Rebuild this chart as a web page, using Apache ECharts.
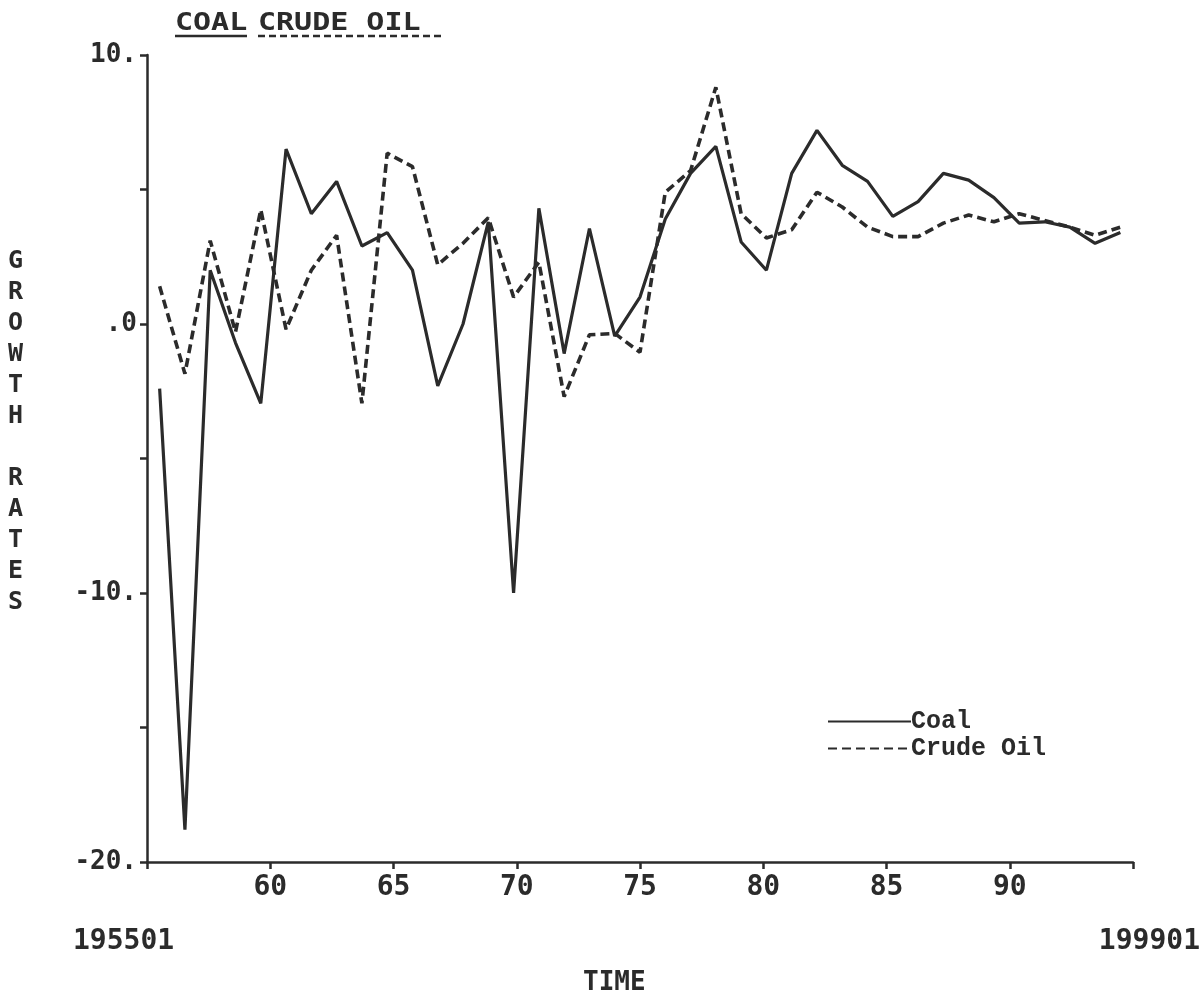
<!DOCTYPE html>
<html>
<head>
<meta charset="utf-8">
<script src="https://cdn.jsdelivr.net/npm/echarts@6/dist/echarts.min.js"></script>
<style>
html,body{margin:0;padding:0;background:#fff;}
#chart{width:1204px;height:998px;}
</style>
</head>
<body>
<div id="chart"></div>
<script>
// ---- data ----
const years = [1955,1956,1957,1958,1959,1960,1961,1962,1963,1964,1965,1966,1967,1968,1969,1970,1971,1972,1973,1974,1975,1976,1977,1978,1979,1980,1981,1982,1983,1984,1985,1986,1987,1988,1989,1990,1991,1992,1993];
const coal = [-2.4,-18.8,2.0,-0.7,-2.95,6.5,4.1,5.3,2.9,3.4,2.0,-2.3,0.0,3.8,-10.0,4.3,-1.1,3.55,-0.45,1.0,3.9,5.6,6.6,3.05,2.0,5.6,7.2,5.9,5.3,4.0,4.55,5.6,5.35,4.7,3.75,3.8,3.6,3.0,3.4];
const crudeOil = [1.4,-1.85,3.1,-0.3,4.25,-0.2,2.0,3.3,-2.95,6.35,5.85,2.2,3.0,3.95,1.0,2.3,-2.7,-0.4,-0.35,-1.05,4.9,5.7,8.8,4.1,3.2,3.5,4.9,4.35,3.6,3.25,3.25,3.75,4.05,3.8,4.1,3.85,3.6,3.3,3.6];
const xTickLabels = ['60','65','70','75','80','85','90'];
const seriesNames = ['Coal','Crude Oil'];

const ink = '#2b2b2b';
const monoB = 'DejaVu Sans Mono';

const chart = echarts.init(document.getElementById('chart'), null, {renderer:'canvas'});
chart.setOption({
  backgroundColor:'#fff',
  animation:false,
  grid:{left:147, right:71, top:55, bottom:136, containLabel:false},
  legend:{
    orient:'vertical', left:822, top:704, itemWidth:83, itemHeight:14, itemGap:2,
    data:seriesNames,
    itemStyle:{opacity:0},
    textStyle:{fontFamily:'Liberation Mono', fontSize:25, fontWeight:600, color:ink, padding:[0,0,0,-5]}
  },
  xAxis:[{
    type:'value', min:55, max:95, interval:5, position:'bottom',
    axisLine:{show:true, onZero:false, lineStyle:{color:ink, width:2.5}},
    axisTick:{show:true, length:7, lineStyle:{color:ink, width:2.5}},
    splitLine:{show:false},
    axisLabel:{margin:12, fontFamily:monoB, fontWeight:'bold', fontSize:28, color:ink,
      formatter:v => xTickLabels.indexOf(String(v)) >= 0 ? String(v) : ''}
  },{
    type:'category', data:years, boundaryGap:true, show:false
  }],
  yAxis:{
    type:'value', min:-20, max:10, interval:5,
    axisLine:{show:true, onZero:false, lineStyle:{color:ink, width:2.5}},
    axisTick:{show:true, length:7, lineStyle:{color:ink, width:2.5}},
    splitLine:{show:false},
    axisLabel:{margin:10, fontFamily:monoB, fontWeight:'bold', fontSize:26, color:ink,
      formatter:v => (v % 10 === 0) ? (v === 0 ? '.0' : v + '.') : ''}
  },
  series:[{
    name:seriesNames[0], type:'line', xAxisIndex:1, data:coal, symbol:'none',
    lineStyle:{color:ink, width:3.2, type:'solid'}, itemStyle:{color:ink}
  },{
    name:seriesNames[1], type:'line', xAxisIndex:1, data:crudeOil, symbol:'none',
    lineStyle:{color:ink, width:3.6, type:[9,5]}, itemStyle:{color:ink}
  }],
  graphic:[
    {type:'text', left:175, top:12, scaleX:1.25, style:{text:'COAL', font:'bold 24px "DejaVu Sans Mono"', fill:ink}},
    {type:'text', left:258, top:12, scaleX:1.25, style:{text:'CRUDE OIL', font:'bold 24px "DejaVu Sans Mono"', fill:ink}},
    {type:'line', shape:{x1:175,y1:36,x2:247,y2:36}, style:{stroke:ink, lineWidth:2.5}},
    {type:'line', shape:{x1:258,y1:36,x2:442,y2:36}, style:{stroke:ink, lineWidth:2.5, lineDash:[7,4]}},
    {type:'text', left:8, top:246, style:{text:'G\nR\nO\nW\nT\nH\n\nR\nA\nT\nE\nS', font:'bold 25px "DejaVu Sans Mono"', fill:ink, lineHeight:31}},
    {type:'text', left:73, top:928, style:{text:'195501', font:'bold 28px "DejaVu Sans Mono"', fill:ink}},
    {type:'text', right:4, top:928, style:{text:'199901', font:'bold 28px "DejaVu Sans Mono"', fill:ink}},
    {type:'text', left:583, top:970, style:{text:'TIME', font:'bold 26px "DejaVu Sans Mono"', fill:ink}}
  ]
});
</script>
</body>
</html>
